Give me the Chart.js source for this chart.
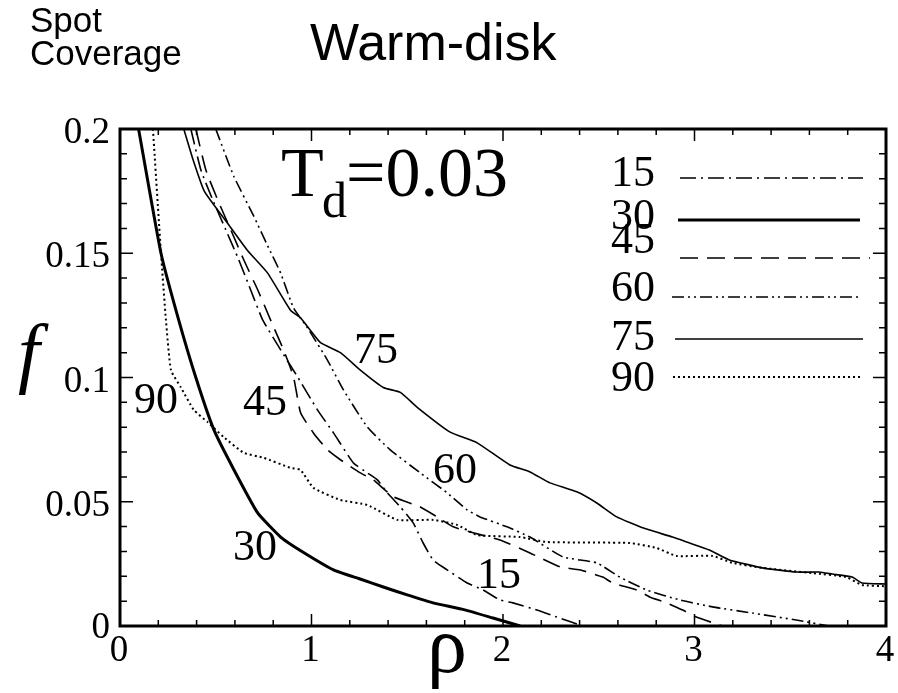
<!DOCTYPE html>
<html>
<head>
<meta charset="utf-8">
<title>Warm-disk spot coverage</title>
<script src="https://cdn.jsdelivr.net/npm/chart.js@4/dist/chart.umd.min.js"></script>
<style>
  html, body { margin: 0; padding: 0; background: #fff; }
  #chart { display: block; }
</style>
</head>
<body>
<canvas id="chart" width="898" height="693"></canvas>
<script>
// spot coverage f against rho, one curve per inclination (degrees)
const rho15 = [0.37, 0.422, 0.484, 0.552, 0.62, 0.682, 0.745, 0.839, 0.927, 1.031, 1.115, 1.219, 1.292, 1.344, 1.396, 1.464, 1.531, 1.583, 1.635, 1.708, 1.813, 1.896, 1.984, 2.052, 2.177, 2.281, 2.401];
const f15 = [0.2, 0.1836, 0.1715, 0.1595, 0.1474, 0.1353, 0.1232, 0.1111, 0.1003, 0.087, 0.0777, 0.0656, 0.0616, 0.0588, 0.0536, 0.0479, 0.0415, 0.0334, 0.0266, 0.0226, 0.0173, 0.0145, 0.0105, 0.0093, 0.0064, 0.0036, 0.0004];

const rho30 = [0.097, 0.214, 0.307, 0.396, 0.49, 0.594, 0.719, 0.839, 0.95, 1.115, 1.25, 1.375, 1.5, 1.635, 1.8, 1.948, 2.09];
const f30 = [0.2, 0.15, 0.123, 0.1, 0.079, 0.063, 0.0455, 0.0358, 0.03, 0.0226, 0.019, 0.0157, 0.0125, 0.0093, 0.0065, 0.0032, 0.0];

const rho45 = [0.396, 0.448, 0.51, 0.578, 0.646, 0.719, 0.786, 0.854, 0.906, 0.943, 1.01, 1.083, 1.151, 1.255, 1.323, 1.427, 1.568, 1.656, 1.74, 1.844, 1.984, 2.141, 2.297, 2.401, 2.521, 2.573, 2.698, 2.766, 2.854, 2.938, 3.01, 3.146];
const f45 = [0.2, 0.1836, 0.1715, 0.1595, 0.1474, 0.1353, 0.1232, 0.1111, 0.1003, 0.0858, 0.0777, 0.0709, 0.0669, 0.0616, 0.0588, 0.052, 0.0479, 0.0439, 0.0399, 0.0375, 0.0346, 0.0294, 0.0238, 0.0226, 0.0197, 0.0173, 0.0145, 0.0117, 0.0093, 0.0064, 0.0036, 0.0];

const rho60 = [0.5, 0.594, 0.698, 0.771, 0.839, 0.906, 0.979, 1.083, 1.167, 1.292, 1.411, 1.568, 1.708, 1.813, 1.88, 2.021, 2.141, 2.313, 2.49, 2.609, 2.75, 2.922, 3.094, 3.302, 3.531, 3.703];
const f60 = [0.2, 0.181, 0.165, 0.153, 0.142, 0.128, 0.12, 0.107, 0.095, 0.08, 0.0709, 0.0616, 0.0536, 0.0467, 0.0439, 0.0399, 0.0358, 0.0278, 0.0254, 0.0197, 0.0145, 0.0105, 0.0077, 0.0052, 0.0024, 0.0];

const rho75 = [0.333, 0.38, 0.44, 0.5625, 0.667, 0.771, 0.891, 0.943, 1.047, 1.151, 1.255, 1.375, 1.464, 1.552, 1.724, 1.865, 2.036, 2.141, 2.245, 2.385, 2.49, 2.594, 2.729, 2.885, 2.974, 3.078, 3.182, 3.354, 3.531, 3.651, 3.719, 3.823, 3.875, 4.0];
const f75 = [0.2, 0.188, 0.175, 0.162, 0.151, 0.142, 0.127, 0.124, 0.114, 0.11, 0.103, 0.096, 0.094, 0.088, 0.078, 0.0737, 0.0648, 0.062, 0.0576, 0.054, 0.0495, 0.0439, 0.0395, 0.0358, 0.0334, 0.0306, 0.0266, 0.0234, 0.0217, 0.0217, 0.0209, 0.0197, 0.0173, 0.0169];

const rho90 = [0.172, 0.214, 0.24, 0.266, 0.318, 0.385, 0.458, 0.542, 0.646, 0.75, 0.891, 0.943, 1.01, 1.151, 1.292, 1.448, 1.635, 1.76, 1.865, 2.089, 2.229, 2.661, 2.802, 2.906, 3.094, 3.198, 3.354, 3.615, 3.792, 3.875, 4.0];
const f90 = [0.2, 0.15, 0.123, 0.103, 0.096, 0.087, 0.082, 0.076, 0.0697, 0.0677, 0.0636, 0.0628, 0.0556, 0.0507, 0.0487, 0.0427, 0.0427, 0.0407, 0.0366, 0.0358, 0.0338, 0.0334, 0.0314, 0.0282, 0.0282, 0.0254, 0.0234, 0.0213, 0.0197, 0.0165, 0.016];

const inclinations = ['15', '30', '45', '60', '75', '90'];

const xTicks = [0, 1, 2, 3, 4];
const xTickLabels = ['0', '1', '2', '3', '4'];
const yTicks = [0, 0.05, 0.1, 0.15, 0.2];
const yTickLabels = ['0', '0.05', '0.1', '0.15', '0.2'];

// where each curve gets its number written inside the frame
const curveLabelAt = [
  { text: '15', x: 1.979, y: 0.0153 },
  { text: '30', x: 0.705, y: 0.0266 },
  { text: '45', x: 0.757, y: 0.0849 },
  { text: '60', x: 1.749, y: 0.0575 },
  { text: '75', x: 1.337, y: 0.1058 },
  { text: '90', x: 0.188, y: 0.0857 },
];

const SERIF = '"Liberation Serif", "Times New Roman", serif';
const SANS = '"Liberation Sans", Arial, sans-serif';

function points(xs, ys) {
  return xs.map((x, i) => ({ x: x, y: ys[i] }));
}

const styles = [
  { width: 1.6, dash: [16, 5, 2, 5] },
  { width: 3, dash: [] },
  { width: 1.6, dash: [18, 9] },
  { width: 1.6, dash: [12, 4, 2, 4, 2, 4] },
  { width: 1.6, dash: [] },
  { width: 2, dash: [2, 3] },
];

const series = [
  points(rho15, f15),
  points(rho30, f30),
  points(rho45, f45),
  points(rho60, f60),
  points(rho75, f75),
  points(rho90, f90),
];

// frame, inward ticks, tick labels, legend and annotations
const frameDecor = {
  id: 'frameDecor',
  afterDatasetsDraw(chart) {
    const ctx = chart.ctx;
    const area = chart.chartArea;
    const xs = chart.scales.x;
    const ys = chart.scales.y;
    ctx.save();
    ctx.strokeStyle = '#000';
    ctx.fillStyle = '#000';
    ctx.setLineDash([]);

    // ticks on all four sides
    ctx.lineWidth = 1.5;
    ctx.beginPath();
    for (let v = 0; v <= 4.0001; v += 0.2) {
      const px = xs.getPixelForValue(v);
      const major = Math.abs(v - Math.round(v)) < 1e-6;
      const len = major ? 12 : 6;
      ctx.moveTo(px, area.bottom);
      ctx.lineTo(px, area.bottom - len);
      ctx.moveTo(px, area.top);
      ctx.lineTo(px, area.top + len);
    }
    for (let i = 0; i <= 20; i++) {
      const v = i * 0.01;
      const py = ys.getPixelForValue(v);
      const len = i % 5 === 0 ? 13 : 7;
      ctx.moveTo(area.left, py);
      ctx.lineTo(area.left + len, py);
      ctx.moveTo(area.right, py);
      ctx.lineTo(area.right - len, py);
    }
    ctx.stroke();

    // frame
    ctx.lineWidth = 3;
    ctx.strokeRect(area.left, area.top, area.right - area.left, area.bottom - area.top);

    // tick labels
    ctx.font = '37px ' + SERIF;
    ctx.textAlign = 'right';
    ctx.textBaseline = 'alphabetic';
    yTicks.forEach((v, i) => {
      const py = ys.getPixelForValue(v);
      ctx.fillText(yTickLabels[i], area.left - 10, py + (v === 0 ? 12 : 14));
    });
    ctx.textAlign = 'center';
    xTicks.forEach((v, i) => {
      const px = xs.getPixelForValue(v);
      ctx.fillText(xTickLabels[i], px - 1, area.bottom + 35);
    });

    // axis titles
    ctx.font = 'italic 78px ' + SERIF;
    ctx.textAlign = 'left';
    ctx.fillText('f', 18, 378);
    ctx.font = '80px ' + SERIF;
    ctx.textAlign = 'center';
    ctx.fillText('ρ', 447, 672);

    // T_d = 0.03
    ctx.textAlign = 'left';
    ctx.font = '70px ' + SERIF;
    ctx.fillText('T', 281, 196);
    ctx.font = '50px ' + SERIF;
    ctx.fillText('d', 322, 217);
    ctx.font = '70px ' + SERIF;
    ctx.fillText('=0.03', 346, 196);

    // curve numbers inside the frame
    ctx.font = '44px ' + SERIF;
    ctx.textAlign = 'center';
    curveLabelAt.forEach(l => {
      ctx.fillText(l.text, xs.getPixelForValue(l.x), ys.getPixelForValue(l.y));
    });

    // legend: number then a sample of the line
    const legendRows = [
      { base: 186, y: 178, x0: 680, x1: 863 },
      { base: 229, y: 220, x0: 678, x1: 860 },
      { base: 253, y: 258, x0: 680, x1: 870 },
      { base: 301, y: 297, x0: 672, x1: 858 },
      { base: 350, y: 339, x0: 675, x1: 863 },
      { base: 391, y: 377, x0: 673, x1: 863 },
    ];
    ctx.textAlign = 'right';
    inclinations.forEach((name, i) => {
      const r = legendRows[i];
      ctx.fillText(name, 655, r.base);
      ctx.lineWidth = styles[i].width;
      ctx.setLineDash(styles[i].dash);
      ctx.beginPath();
      ctx.moveTo(r.x0, r.y);
      ctx.lineTo(r.x1, r.y);
      ctx.stroke();
    });
    ctx.setLineDash([]);

    // headings above the frame
    ctx.textAlign = 'left';
    ctx.font = '35px ' + SANS;
    ctx.fillText('Spot', 30, 32);
    ctx.fillText('Coverage', 30, 65);
    ctx.font = '52px ' + SANS;
    ctx.fillText('Warm-disk', 310, 60);
    ctx.restore();
  },
};

new Chart(document.getElementById('chart'), {
  type: 'line',
  data: {
    datasets: inclinations.map((name, i) => ({
      label: name,
      data: series[i],
      borderColor: '#000',
      backgroundColor: '#000',
      borderWidth: styles[i].width,
      borderDash: styles[i].dash,
      pointRadius: 0,
      tension: 0.15,
      fill: false,
    })),
  },
  options: {
    responsive: false,
    animation: false,
    devicePixelRatio: 1,
    parsing: false,
    layout: {
      padding: { left: 120, right: 12, top: 129, bottom: 67 },
    },
    plugins: {
      legend: { display: false },
      tooltip: { enabled: false },
    },
    scales: {
      x: { type: 'linear', min: 0, max: 4, display: false },
      y: { type: 'linear', min: 0, max: 0.2, display: false },
    },
  },
  plugins: [frameDecor],
});
</script>
</body>
</html>
